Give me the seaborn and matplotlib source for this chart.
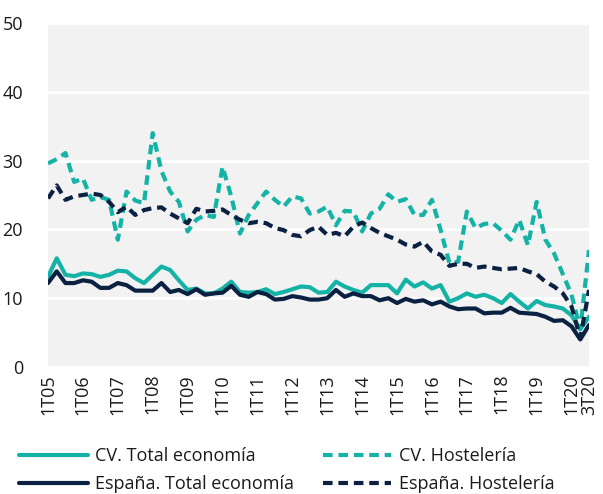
import matplotlib
matplotlib.use("Agg")
import matplotlib.pyplot as plt
import seaborn as sns
import pandas as pd
import numpy as np

# Quarterly series, 1T05 .. 3T20
quarters = [f"{q}T{y:02d}" for y in range(5, 21) for q in (1, 2, 3, 4)][:63]

cv_total = [13.1, 15.8, 13.4, 13.2, 13.6, 13.5, 13.1, 13.4, 14.0, 13.9,
            12.9, 12.2, 13.4, 14.6, 14.1, 12.6, 11.2, 11.4, 10.7, 10.7,
            11.4, 12.4, 10.9, 10.8, 10.9, 11.3, 10.6, 10.9, 11.3, 11.7,
            11.6, 10.8, 10.9, 12.4, 11.7, 11.2, 10.8, 11.9, 11.9, 11.9,
            10.7, 12.7, 11.7, 12.3, 11.4, 11.9, 9.5, 10.0, 10.7, 10.2,
            10.5, 10.0, 9.3, 10.6, 9.5, 8.5, 9.6, 9.0, 8.8, 8.5,
            7.5, 5.5, 7.3]

cv_hosteleria = [29.6, 30.2, 31.1, 26.9, 27.4, 24.3, 24.7, 24.3, 18.5, 25.5,
                 24.2, 23.8, 34.0, 28.5, 25.5, 24.0, 19.7, 21.4, 22.1, 21.8,
                 29.1, 24.8, 19.4, 22.1, 23.8, 25.5, 24.3, 23.3, 24.8, 24.5,
                 22.3, 22.6, 23.3, 20.6, 22.7, 22.6, 19.7, 22.3, 23.0, 25.1,
                 24.0, 24.4, 22.1, 22.1, 24.3, 19.9, 15.1, 15.3, 22.6, 20.2,
                 20.8, 20.9, 19.8, 18.5, 21.4, 17.7, 24.0, 18.5, 16.5, 13.5,
                 10.5, 5.5, 17.0]

es_total = [12.2, 13.9, 12.2, 12.2, 12.6, 12.4, 11.5, 11.5, 12.2, 11.9,
            11.1, 11.1, 11.1, 12.2, 10.9, 11.2, 10.6, 11.3, 10.5, 10.7,
            10.8, 11.8, 10.5, 10.2, 10.9, 10.6, 9.8, 9.9, 10.3, 10.1,
            9.8, 9.8, 10.0, 11.2, 10.2, 10.7, 10.3, 10.3, 9.7, 10.0,
            9.3, 9.9, 9.5, 9.7, 9.1, 9.5, 8.8, 8.4, 8.5, 8.5,
            7.8, 7.9, 7.9, 8.6, 7.9, 7.8, 7.7, 7.3, 6.7, 6.8,
            5.9, 4.0, 6.1]

es_hosteleria = [24.5, 26.4, 24.3, 24.8, 25.0, 25.2, 25.0, 24.0, 22.5, 23.3,
                 22.1, 22.8, 23.1, 23.2, 22.3, 21.6, 20.9, 23.0, 22.6, 22.7,
                 22.9, 22.1, 21.4, 20.9, 21.1, 20.9, 20.2, 19.9, 19.2, 19.0,
                 19.9, 20.4, 19.2, 19.5, 19.0, 20.4, 21.0, 20.2, 19.5, 19.0,
                 18.5, 17.8, 17.5, 18.2, 16.8, 16.3, 14.7, 15.0, 15.0, 14.4,
                 14.6, 14.4, 14.2, 14.3, 14.4, 13.9, 13.5, 12.4, 11.7, 10.7,
                 8.8, 4.2, 11.2]

series_names = ["CV. Total economía", "CV. Hostelería",
                "España. Total economía", "España. Hostelería"]
series_values = [cv_total, cv_hosteleria, es_total, es_hosteleria]

y_ticks = [0, 10, 20, 30, 40, 50]
x_tick_labels = [q for q in quarters if q.startswith("1T")] + ["3T20"]

TEAL = "#14B3A6"
NAVY = "#0B2142"
colors = [TEAL, TEAL, NAVY, NAVY]
solid = "-"
dashed = (0, (2.3, 1.4))
styles = [solid, dashed, solid, dashed]

df = pd.concat(
    [pd.DataFrame({"t": np.arange(len(v)), "valor": v, "serie": n})
     for n, v in zip(series_names, series_values)],
    ignore_index=True,
)

sns.set_theme(style="white")
plt.rcParams["font.family"] = ["Open Sans", "DejaVu Sans"]
plt.rcParams["text.color"] = "#1a1a1a"

fig = plt.figure(figsize=(6.03, 4.94), dpi=100)
ax = fig.add_axes([48 / 603, 1 - 367 / 494, (589 - 48) / 603, (367 - 23) / 494])
ax.set_facecolor("#F2F2F2")

for name, col, ls in zip(series_names, colors, styles):
    sub = df[df["serie"] == name]
    sns.lineplot(data=sub, x="t", y="valor", ax=ax, color=col, lw=3.0,
                 label=name, legend=False)
    ax.lines[-1].set_linestyle(ls)

ax.set_xlim(0, len(quarters) - 1)
ax.set_ylim(0, 50)
ax.set_yticks(y_ticks)
ax.set_yticklabels([str(v) for v in y_ticks])
tick_pos = [quarters.index(q) for q in x_tick_labels]
ax.set_xticks(tick_pos)
ax.set_xticklabels(x_tick_labels, rotation=90, va="top", ha="center")
ax.grid(axis="y", color="white", lw=2)
ax.set_axisbelow(True)
ax.tick_params(axis="both", length=0, labelsize=13, colors="#1a1a1a")
ax.tick_params(axis="y", pad=18)
ax.tick_params(axis="x", pad=5)
ax.set_xlabel("")
ax.set_ylabel("")
for s in ax.spines.values():
    s.set_visible(False)

lines = ax.get_lines()
order = [0, 2, 1, 3]
fig.legend([lines[i] for i in order], [series_names[i] for i in order],
           ncol=2, frameon=False, loc="upper left",
           bbox_to_anchor=(10 / 603, 1 - 438 / 494), fontsize=13,
           handlelength=3.8, handletextpad=0.4, columnspacing=1.6,
           labelspacing=0.55, borderpad=0)

fig.savefig("out.png", dpi=100)
